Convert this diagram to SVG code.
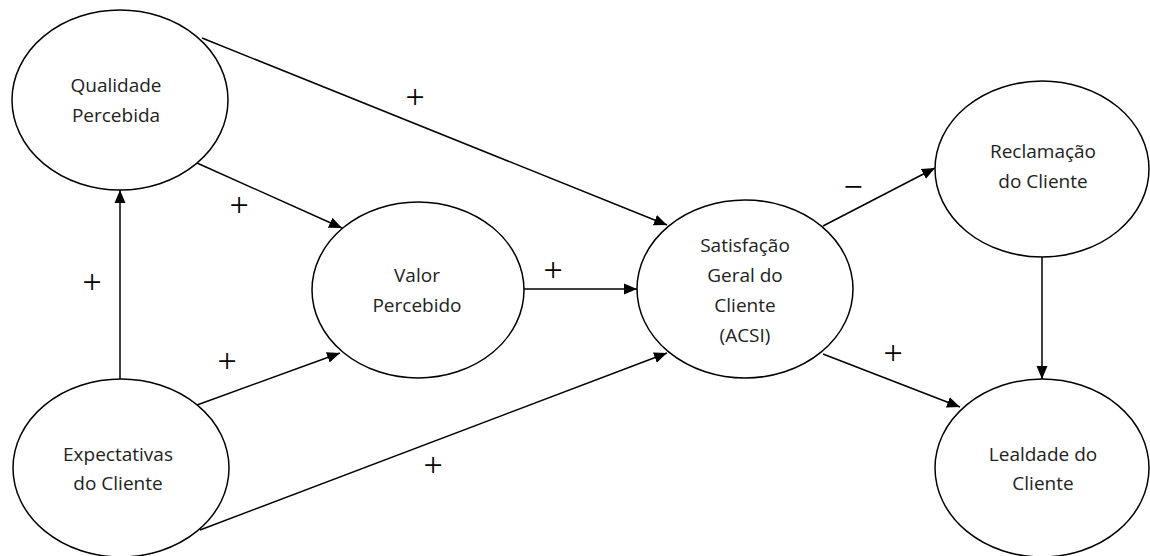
<svg xmlns="http://www.w3.org/2000/svg" width="1150" height="556" viewBox="0 0 1150 556">
<style>
.node ellipse{fill:#fff;stroke:#000;stroke-width:1.5}
.node text{font-family:"Open Sans","Noto Sans",sans-serif;font-size:19px;fill:#222;text-anchor:middle}
.edges line{stroke:#000;stroke-width:1.5;fill:none}
.sign{font-family:"Liberation Serif",serif;font-size:34px;fill:#000;text-anchor:middle}
</style>
<defs>
<marker id="arr" markerUnits="userSpaceOnUse" markerWidth="14" markerHeight="12" refX="13" refY="6" orient="auto">
<path d="M0,0.5 L13,6 L0,11.5 Z" fill="#000"/>
</marker>
</defs>
<rect width="1150" height="556" fill="#fff"/>
<g class="edges">
<line x1="120" y1="379" x2="120" y2="190" marker-end="url(#arr)"/>
<line x1="197" y1="163" x2="342" y2="228" marker-end="url(#arr)"/>
<line x1="202" y1="38" x2="667" y2="225" marker-end="url(#arr)"/>
<line x1="197" y1="405" x2="340" y2="353" marker-end="url(#arr)"/>
<line x1="200" y1="530" x2="667" y2="353" marker-end="url(#arr)"/>
<line x1="524" y1="289" x2="637" y2="289" marker-end="url(#arr)"/>
<line x1="823" y1="226" x2="935" y2="168" marker-end="url(#arr)"/>
<line x1="823" y1="354" x2="960" y2="407" marker-end="url(#arr)"/>
<line x1="1042" y1="257" x2="1042" y2="379" marker-end="url(#arr)"/>
</g>
<g id="qualidade" class="node">
<ellipse cx="120" cy="100" rx="108" ry="90"/>
<text x="116" y="92">Qualidade</text>
<text x="116" y="122">Percebida</text>
</g>
<g id="expectativas" class="node">
<ellipse cx="121" cy="468" rx="108" ry="89"/>
<text x="118" y="461">Expectativas</text>
<text x="118" y="490">do Cliente</text>
</g>
<g id="valor" class="node">
<ellipse cx="418" cy="290" rx="106" ry="88"/>
<text x="417" y="282">Valor</text>
<text x="417" y="312">Percebido</text>
</g>
<g id="satisfacao" class="node">
<ellipse cx="745" cy="289" rx="108" ry="89"/>
<text x="745" y="252">Satisfação</text>
<text x="745" y="282">Geral do</text>
<text x="745" y="312">Cliente</text>
<text x="745" y="342">(ACSI)</text>
</g>
<g id="reclamacao" class="node">
<ellipse cx="1042" cy="169" rx="107" ry="88"/>
<text x="1043" y="158">Reclamação</text>
<text x="1043" y="188">do Cliente</text>
</g>
<g id="lealdade" class="node">
<ellipse cx="1042" cy="468" rx="107" ry="89"/>
<text x="1043" y="461">Lealdade do</text>
<text x="1043" y="490">Cliente</text>
</g>
<g id="labels">
<text class="sign" x="415" y="108">+</text>
<text class="sign" x="239" y="216">+</text>
<text class="sign" x="92" y="293">+</text>
<text class="sign" x="227" y="372">+</text>
<text class="sign" x="433" y="476">+</text>
<text class="sign" x="553" y="281">+</text>
<text class="sign" x="853" y="198">−</text>
<text class="sign" x="893" y="364">+</text>
</g>
</svg>
